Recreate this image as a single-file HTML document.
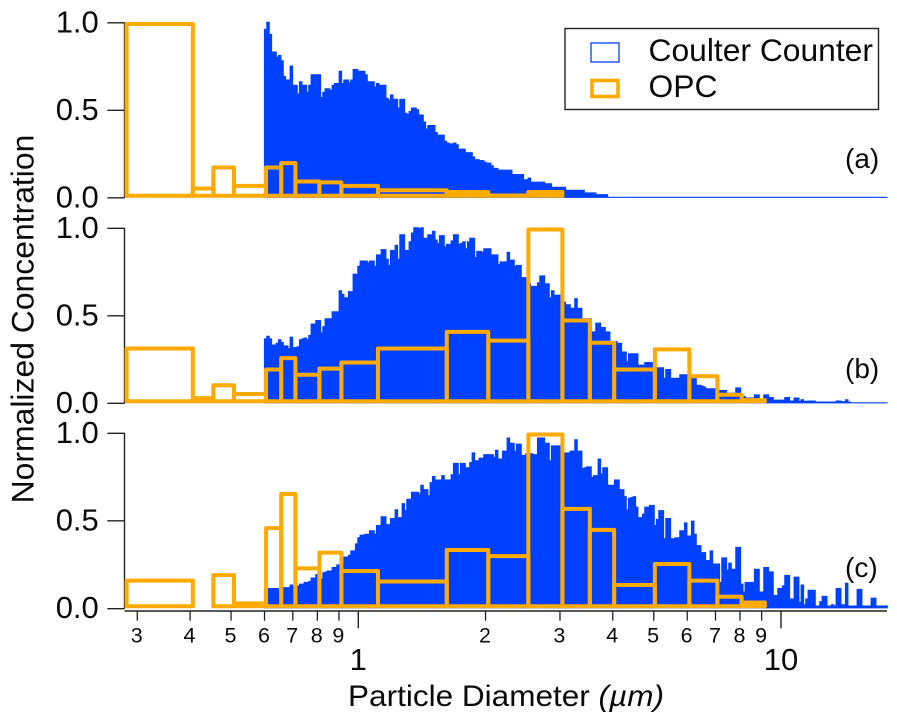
<!DOCTYPE html>
<html lang="en">
<head>
<meta charset="utf-8">
<title>Particle size distributions</title>
<style>
html,body{margin:0;padding:0;background:#fff;width:897px;height:723px;overflow:hidden}
svg{display:block}
text{font-family:"Liberation Sans",sans-serif;fill:#0a0a0a}
</style>
</head>
<body>
<svg id="chart" xmlns="http://www.w3.org/2000/svg" width="897" height="723" viewBox="0 0 897 723">
  <rect x="0" y="0" width="897" height="723" fill="#fff"/>
  <g id="axes"></g>
  <g id="marks"></g>
  <text transform="translate(33.3,319) rotate(-90)" text-anchor="middle" font-size="31.9">Normalized Concentration</text>
  <text x="348" y="706" font-size="30" textLength="316" lengthAdjust="spacingAndGlyphs">Particle Diameter <tspan font-style="italic">(µm)</tspan></text>
  <text x="845" y="168" font-size="28">(a)</text>
  <text x="845" y="378" font-size="28">(b)</text>
  <text x="845" y="577" font-size="28">(c)</text>
  <g>
    <rect x="565" y="28.5" width="313.5" height="81" fill="#fff" stroke="#222" stroke-width="1.4"/>
    <rect x="591" y="43" width="28" height="19" fill="#fff" stroke="#0040ff" stroke-width="1.3"/>
    <text x="648.5" y="61" font-size="31.8">Coulter Counter</text>
    <rect x="592" y="80.5" width="26" height="16" fill="#fff" stroke="#ffaa00" stroke-width="3.6"/>
    <text x="648.5" y="97" font-size="31.8">OPC</text>
  </g>
</svg>
<script>
var coulterBinStart = 0.6;
var coulterLogStep = 0.00552;
var coulterA = [
.96,1,.93,.83,.83,.80,.81,.78,.69,.67,
.67,.75,.64,.64,.59,.66,.64,.64,.60,.64,
.70,.70,.70,.70,.57,.60,.62,.62,.61,.64,
.65,.65,.72,.65,.67,.67,.655,.67,.73,.73,
.72,.72,.72,.70,.66,.66,.66,.63,.65,.64,
.64,.64,.565,.555,.585,.56,.56,.51,.56,.56,
.48,.475,.49,.51,.51,.50,.47,.47,.43,.39,
.41,.41,.41,.37,.355,.355,.355,.32,.31,.305,
.305,.31,.30,.275,.275,.275,.255,.255,.255,.23,
.215,.215,.21,.21,.20,.195,.195,.18,.165,.165,
.155,.155,.155,.155,.155,.155,.13,.13,.13,.13,
.13,.10,.10,.11,.086,.086,.086,.086,.086,.086,
.077,.077,.077,.057,.057,.057,.057,.057,.057,.04,
.04,.04,.04,.04,.04,.04,.04,.025,.025,.025,
.025,.025,.015,.015,.015,.015,.015,0,0,0,
0,0,0,0,0,0,0,0,0,0,0,0,0,0,0,0,0,0,0,0,
0,0,0,0,0,0,0,0,0,0,0,0,0,0,0,0,0,0,0,0,
0,0,0,0,0,0,0,0,0,0,0,0,0,0,0,0,0,0,0,0,
0,0,0,0,0,0,0,0,0,0,0,0,0,0,0,0,0,0,0,0,
0,0,0,0,0,0,0,0,0,0,0,0,0,0,0,0,0,0,0,0,
0,0,0,0,0,0,0,0,0,0,0,0,0,0,0,0,0
];
var coulterB = [
.365,.38,.365,.33,.33,.34,.36,.345,.325,.325,
.31,.375,.315,.315,.32,.36,.365,.37,.36,.385,
.45,.45,.47,.47,.40,.435,.48,.48,.48,.52,
.52,.52,.64,.62,.60,.60,.635,.635,.735,.735,
.78,.81,.81,.81,.80,.81,.81,.78,.845,.845,
.875,.875,.82,.785,.87,.87,.90,.82,.96,.96,
.87,.87,.92,.97,1,1,.995,1,.94,.94,
.96,.96,.98,.93,.91,.955,.955,.89,.905,.905,
.925,.96,.96,.905,.91,.92,.88,.92,.94,.94,
.83,.865,.865,.86,.88,.88,.88,.845,.845,.845,
.79,.805,.805,.805,.86,.815,.815,.78,.785,.785,
.715,.715,.70,.68,.665,.665,.665,.685,.725,.725,
.68,.68,.60,.64,.615,.615,.615,.60,.575,.56,
.56,.54,.54,.595,.54,.54,.48,.48,.48,.48,
.405,.405,.455,.455,.43,.43,.405,.405,.35,.35,
.35,.34,.34,.29,.29,.235,.28,.28,.28,.28,
.215,.215,.215,.23,.23,.23,.23,.18,.20,.20,
.20,.14,.19,.19,.14,.14,.14,.14,.16,.16,
.16,.13,.13,.14,.14,.10,.10,.095,.09,.08,
.08,.08,.08,.03,.03,.07,.07,.07,.055,.055,
.055,.055,.085,.085,.035,.035,.027,.027,.027,.027,
.045,.045,.02,.02,.045,.045,.03,.03,.015,.015,
.015,.015,.015,.03,.03,.01,.01,.027,.027,.008,
.017,.008,.008,.01,.01,.01,.004,.004,.004,.004,
.004,.004,.004,.004,.004,.01,.01,.006,.006,.017,
.004,0,0,0,0,0,0,0,0,0,
0,0,0,0,0,0,0
];
var coulterC = [
.11,.11,.11,.11,.11,.11,.11,.11,.115,.115,
.115,.13,.12,.12,.125,.135,.135,.145,.145,.15,
.17,.17,.19,.165,.165,.20,.205,.21,.21,.23,
.23,.245,.245,.245,.29,.29,.30,.325,.325,.365,
.40,.415,.415,.42,.42,.44,.44,.42,.47,.47,
.52,.52,.475,.475,.51,.51,.56,.515,.515,.595,
.555,.62,.62,.66,.66,.66,.65,.70,.675,.675,
.64,.715,.75,.73,.73,.73,.755,.73,.73,.73,
.76,.825,.825,.76,.825,.825,.80,.80,.83,.885,
.84,.84,.855,.855,.875,.875,.875,.875,.86,.90,
.85,.85,.895,.895,.97,.94,.94,.895,.935,.935,
.87,.87,.88,.88,.88,.875,.875,.97,.97,.97,
.94,.94,.84,.925,.925,.925,.925,.90,.885,.885,
.885,.895,.895,.96,.895,.895,.795,.80,.805,.805,
.745,.755,.755,.85,.765,.80,.80,.70,.70,.70,
.73,.73,.675,.675,.635,.56,.625,.63,.635,.575,
.515,.515,.535,.575,.575,.585,.585,.47,.505,.555,
.555,.395,.51,.51,.395,.395,.40,.40,.44,.44,
.485,.41,.41,.495,.42,.355,.355,.315,.315,.27,
.27,.325,.25,.25,.25,.145,.285,.285,.215,.255,
.22,.22,.345,.345,.135,.09,.145,.145,.145,.145,
.22,.22,.09,.09,.23,.23,.205,.205,.07,.07,
.11,.11,.125,.185,.185,.05,.05,.175,.175,.03,
.13,.017,.05,.10,.10,.10,.01,.01,.035,.065,
.065,.01,.01,.017,.01,.11,.11,.017,.017,.14,
.01,.01,.01,.01,.105,.105,.01,.01,.01,.01,
.055,.055,.01,.01,.01,.01,.01
];
var opcEdges = [.283,.406,.454,.508,.605,.657,.710,.809,.912,1.113,1.619,2.03,2.525,3.04,3.53,4.03,5.03,6.07,7.07,8.07,9.16,10.2];
var opcA = [.99,.05,.17,.065,.17,.195,.09,.085,.065,.04,.03,.01,.03,.005,.005,.005,.005,.005,.005,.005,.005];
var opcB = [.31,.027,.10,.05,.19,.255,.16,.195,.23,.31,.405,.355,.99,.47,.343,.19,.305,.152,.046,.015,.008];
var opcC = [.155,.008,.187,.025,.455,.65,.225,.315,.21,.15,.33,.295,.99,.565,.445,.13,.25,.155,.063,.03,.008];
var yTicks = [0, 0.5, 1];
var yTickLabels = ["0.0", "0.5", "1.0"];
var xMinorTicks = [0.3, 0.4, 0.5, 0.6, 0.7, 0.8, 0.9, 2, 3, 4, 5, 6, 7, 8, 9];
var xMinorLabels = ["3", "4", "5", "6", "7", "8", "9", "2", "3", "4", "5", "6", "7", "8", "9"];
var xMajorTicks = [1, 10];
var xMajorLabels = ["1", "10"];
var panelNames = ["a", "b", "c"];

var NS = "http://www.w3.org/2000/svg";
var BLUE = "#0040ff", ORANGE = "#ffaa00", INK = "#222";
var X_ONE = 358.3, X_DECADE = 422.7, X_LEFT = 124.5, X_RIGHT = 887;
var Y_SCALE = 175;
var panelZero = [197.3, 402.8, 607.8];
var OPC_FLOOR = 0.009;

function xScale(d) { return X_ONE + Math.log10(d) * X_DECADE; }
function yScale(panel, v) { return panelZero[panel] - v * Y_SCALE; }
function make(tag, attrs, parent) {
  var el = document.createElementNS(NS, tag);
  for (var k in attrs) el.setAttribute(k, attrs[k]);
  parent.appendChild(el);
  return el;
}

var axes = document.getElementById("axes");
var marks = document.getElementById("marks");
var coulterSeries = [coulterA, coulterB, coulterC];
var opcSeries = [opcA, opcB, opcC];

coulterSeries.forEach(function (values, p) {
  var y0 = yScale(p, 0);
  var d = "M" + xScale(coulterBinStart).toFixed(2) + " " + y0;
  values.forEach(function (v, i) {
    var x0 = xScale(coulterBinStart * Math.pow(10, i * coulterLogStep));
    var x1 = xScale(coulterBinStart * Math.pow(10, (i + 1) * coulterLogStep));
    var y = yScale(p, v).toFixed(2);
    d += "L" + x0.toFixed(2) + " " + y + "L" + x1.toFixed(2) + " " + y;
  });
  d += "L" + X_RIGHT + " " + y0 + "Z";
  var hist = make("path", { d: d, fill: BLUE, stroke: BLUE, "stroke-width": 1.2, "stroke-linejoin": "miter" }, marks);
  
  

  opcSeries[p].forEach(function (v, i) {
    var x0 = xScale(opcEdges[i]), x1 = xScale(opcEdges[i + 1]);
    var top = yScale(p, Math.max(v, OPC_FLOOR));
    var bottom = yScale(p, OPC_FLOOR);
    var bar = make("rect", {
      x: x0.toFixed(2), y: top.toFixed(2), width: (x1 - x0).toFixed(2), height: Math.max(bottom - top, 0).toFixed(2),
      fill: "none", stroke: ORANGE, "stroke-width": 4, "stroke-linejoin": "round"
    }, marks);
    
    
  });

  var yAxis = make("line", { x1: X_LEFT, x2: X_LEFT, y1: yScale(p, 1), y2: y0 + 0.7, stroke: INK, "stroke-width": 1.4 }, axes);
  
  
  yTicks.forEach(function (t, i) {
    var y = yScale(p, t) + (p === 2 && t === 0 ? 0.9 : 0.5);
    var tick = make("line", { x1: 107.3, x2: X_LEFT, y1: y, y2: y, stroke: INK, "stroke-width": 1.4 }, axes);
    
    
    var label = make("text", { x: 98.8, y: (yScale(p, t) + 10).toFixed(1), "text-anchor": "end", "font-size": 31 }, axes);
    label.textContent = yTickLabels[i];
    
    
  });
});

var xAxis = make("line", { x1: X_LEFT, x2: X_RIGHT, y1: 611, y2: 611, stroke: INK, "stroke-width": 1.4 }, axes);



xMinorTicks.forEach(function (t, i) {
  var x = xScale(t);
  var tick = make("line", { x1: x, x2: x, y1: 611, y2: 620.7, stroke: INK, "stroke-width": 1.3 }, axes);
  
  
  var label = make("text", { x: x - 0.6, y: 642.3, "text-anchor": "middle", "font-size": 21.5 }, axes);
  label.textContent = xMinorLabels[i];
  
  
});

xMajorTicks.forEach(function (t, i) {
  var x = xScale(t);
  var tick = make("line", { x1: x, x2: x, y1: 611, y2: 628.3, stroke: INK, "stroke-width": 1.4 }, axes);
  
  
  var label = make("text", { x: x, y: 670, "text-anchor": "middle", "font-size": 31 }, axes);
  label.textContent = xMajorLabels[i];
  
  
});
</script>
</body>
</html>
